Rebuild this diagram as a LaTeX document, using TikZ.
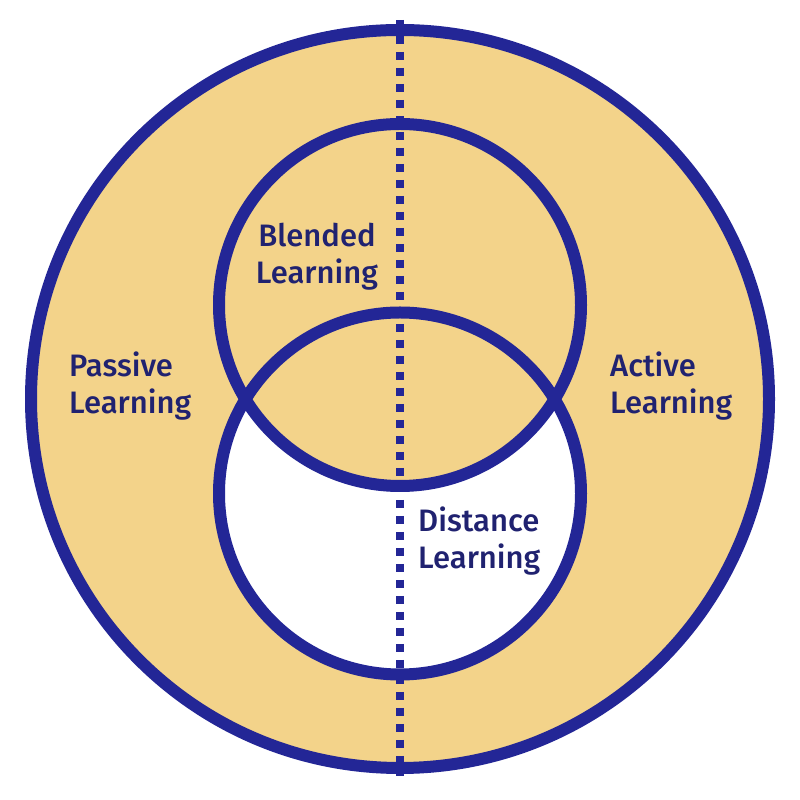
\documentclass[tikz,border=0pt]{standalone}
\usepackage{fontspec}
\setmainfont{Fira Sans}[UprightFont=* Medium]
\definecolor{fillorange}{RGB}{243,211,138}
\definecolor{navy}{RGB}{35,38,150}
\definecolor{textnavy}{RGB}{32,34,112}
\begin{document}
\begin{tikzpicture}[x=1pt,y=1pt,
  ring/.style={draw=navy,line width=12pt},
  dotline/.style={draw=navy,line width=8pt,dash pattern=on 8pt off 8pt},
  lbl/.style={text=textnavy,inner sep=0pt,font=\fontsize{31}{37}\selectfont}]
\useasboundingbox (0,0) rectangle (800,800);
\fill[white] (0,0) rectangle (800,800);
% fills
\fill[fillorange] (400,401) circle (369);
\fill[white] (400,306.5) circle (181);
\fill[fillorange] (400,495) circle (181);
% rings
\draw[ring] (400,401) circle (369);
\draw[ring] (400,495) circle (181);
\draw[ring] (400,306.5) circle (181);
% dotted axis
\coordinate (top) at (400,780);
\coordinate (bot) at (400,24);
\draw[dotline] (top) -- (bot);
% labels (base = last line baseline)
\node[lbl,anchor=base west,align=left] (passive) at (69,386) {Passive\\Learning};
\node[lbl,anchor=base west,align=left] (active) at (610,386) {Active\\Learning};
\node[lbl,anchor=base,align=center] (blended) at (317,516) {Blended\\Learning};
\node[lbl,anchor=base west,align=left] (distance) at (418,231) {Distance\\Learning};
\end{tikzpicture}
\end{document}
